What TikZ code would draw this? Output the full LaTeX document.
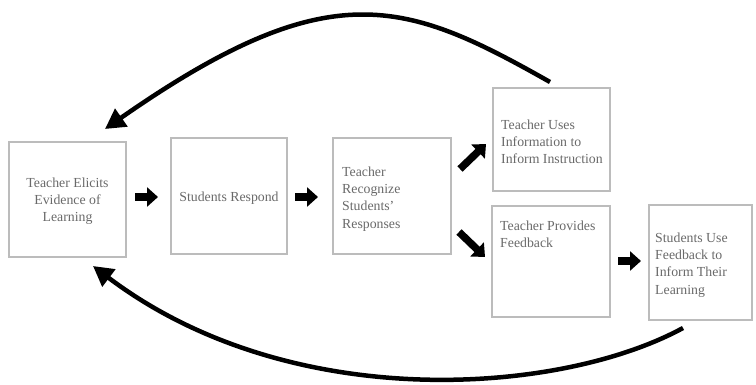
\documentclass[tikz,border=0pt]{standalone}
\usepackage{fontspec}
\setmainfont{Liberation Serif}
\usetikzlibrary{arrows.meta}
\definecolor{txtgray}{RGB}{105,105,105}
\definecolor{boxgray}{RGB}{188,188,188}
\tikzset{
  stage/.style={draw=boxgray, line width=1.2pt, inner sep=0pt},
  label/.style={text=txtgray, font=\fontsize{13.8}{17.2}\selectfont, inner sep=0pt},
  blockarrow/.style={line width=7.5pt, -{Triangle[length=11pt,width=19pt]}},
  looparrow/.style={line width=4.5pt, -{Triangle[length=20pt,width=21pt]}},
}
\begin{document}
\begin{tikzpicture}[x=1pt,y=-1pt]
\useasboundingbox (0,0) rectangle (756,385);

% stages of the cycle
\node[stage, minimum width=117pt, minimum height=115pt] (elicit) at (67.5,199.5) {};
\node[label, align=center] (elicitT) at (67.5,201) {Teacher Elicits\\Evidence of\\Learning};

\node[stage, minimum width=116pt, minimum height=116pt] (respond) at (229,196) {};
\node[label] (respondT) at (229,198) {Students Respond};

\node[stage, minimum width=118pt, minimum height=116pt] (recog) at (392,196) {};
\node[label, align=left, anchor=west] (recogT) at (342,199) {Teacher\\Recognize\\Students'\\Responses};

\node[stage, minimum width=117pt, minimum height=103pt] (uses) at (551.5,139.5) {};
\node[label, align=left, anchor=west] (usesT) at (501,142) {Teacher Uses\\Information to\\Inform Instruction};

\node[stage, minimum width=118pt, minimum height=111pt] (provides) at (551,261.5) {};
\node[label, align=left, anchor=north west] (providesT) at (500,220.5) {Teacher Provides\\Feedback};

\node[stage, minimum width=103pt, minimum height=115pt] (studuse) at (700.5,262.5) {};
\node[label, align=left, anchor=west] (studuseT) at (655,265) {Students Use\\Feedback to\\Inform Their\\Learning};

% arrow end points
\coordinate (a1s) at (135,197);  \coordinate (a1e) at (158,197);
\coordinate (a2s) at (295,197);  \coordinate (a2e) at (318,197);
\coordinate (a3s) at (460,169);  \coordinate (a3e) at (486,144);
\coordinate (a4s) at (459,232);  \coordinate (a4e) at (485,257);
\coordinate (a5s) at (618,261);  \coordinate (a5e) at (641,261);
\coordinate (topS) at (550,82);  \coordinate (topE) at (105,129);
\coordinate (botS) at (683,328); \coordinate (botE) at (93,266);

% forward steps
\draw[blockarrow] (a1s) -- (a1e);
\draw[blockarrow] (a2s) -- (a2e);
\draw[blockarrow] (a3s) -- (a3e);
\draw[blockarrow] (a4s) -- (a4e);
\draw[blockarrow] (a5s) -- (a5e);

% feedback loops back to the start
\draw[looparrow] (topS) .. controls (405,0) and (330,-28) .. (topE);
\draw[looparrow] (botS) .. controls (560,395) and (290,415) .. (botE);
\end{tikzpicture}
\end{document}
